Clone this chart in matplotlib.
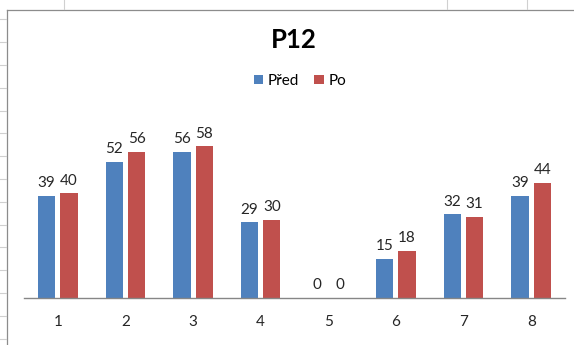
import numpy as np
import matplotlib
matplotlib.use("Agg")
import matplotlib.pyplot as plt
from matplotlib.lines import Line2D

plt.rcParams['font.family'] = ['Lato', 'DejaVu Sans']

categories = ['1', '2', '3', '4', '5', '6', '7', '8']
pred = [39, 52, 56, 29, 0, 15, 32, 39]
po = [40, 56, 58, 30, 0, 18, 31, 44]

BLUE = '#4F81BD'
RED = '#C0504D'

fig = plt.figure(figsize=(5.74, 3.45), dpi=100)
fig.patch.set_facecolor('white')

# chart frame and worksheet cell stubs around it
W, H = 574, 345
def px(x, y):
    return x / W, 1 - y / H

frame = dict(color='#8c8c8c', lw=0.9, transform=fig.transFigure)
fig.add_artist(Line2D([px(7, 0)[0], px(7, 0)[0]], [px(0, 10)[1], 0], **frame))
fig.add_artist(Line2D([px(7, 0)[0], 1], [px(0, 10)[1], px(0, 10)[1]], **frame))
stub = dict(color='#d0d0d0', lw=0.8, transform=fig.transFigure)
for yy in np.arange(19.3, 345, 22.8):
    fig.add_artist(Line2D([0, px(6, 0)[0]], [px(0, yy)[1], px(0, yy)[1]], **stub))
for xx in [64, 447, 527]:
    fig.add_artist(Line2D([px(xx, 0)[0], px(xx, 0)[0]], [1, px(0, 9)[1]], **stub))

ax = fig.add_axes([24 / W, 1 - 298 / H, (565 - 24) / W, (298 - 100) / H])
x = np.arange(len(categories))
w = 0.255
off = 0.165
b1 = ax.bar(x - off, pred, w, color=BLUE, label='Před')
b2 = ax.bar(x + off, po, w, color=RED, label='Po')

for bars, vals in [(b1, pred), (b2, po)]:
    for rect, v in zip(bars, vals):
        ax.annotate(str(v), (rect.get_x() + rect.get_width() / 2, v),
                    xytext=(0, 4), textcoords='offset points',
                    ha='center', va='bottom', fontsize=11, color='#262626')

ax.set_xlim(-0.5, len(categories) - 0.5)
ax.set_ylim(0, 75.7)
ax.set_xticks(x)
ax.set_xticklabels(categories, fontsize=11, color='#262626')
ax.tick_params(axis='x', length=0, pad=12)
ax.set_yticks([])
for side in ['top', 'right', 'left']:
    ax.spines[side].set_visible(False)
ax.spines['bottom'].set_color('#868686')
ax.spines['bottom'].set_linewidth(1.0)

fig.text(px(294, 0)[0], px(0, 40)[1], 'P12', ha='center', va='center',
         fontsize=18.5, fontweight='bold', color='black')
fig.legend(handles=[b1, b2], loc='center', bbox_to_anchor=px(300, 81),
           ncol=2, frameon=False, fontsize=11, handlelength=0.6,
           handleheight=0.6, handletextpad=0.3, columnspacing=1.0)

fig.savefig('out.png', dpi=100)
